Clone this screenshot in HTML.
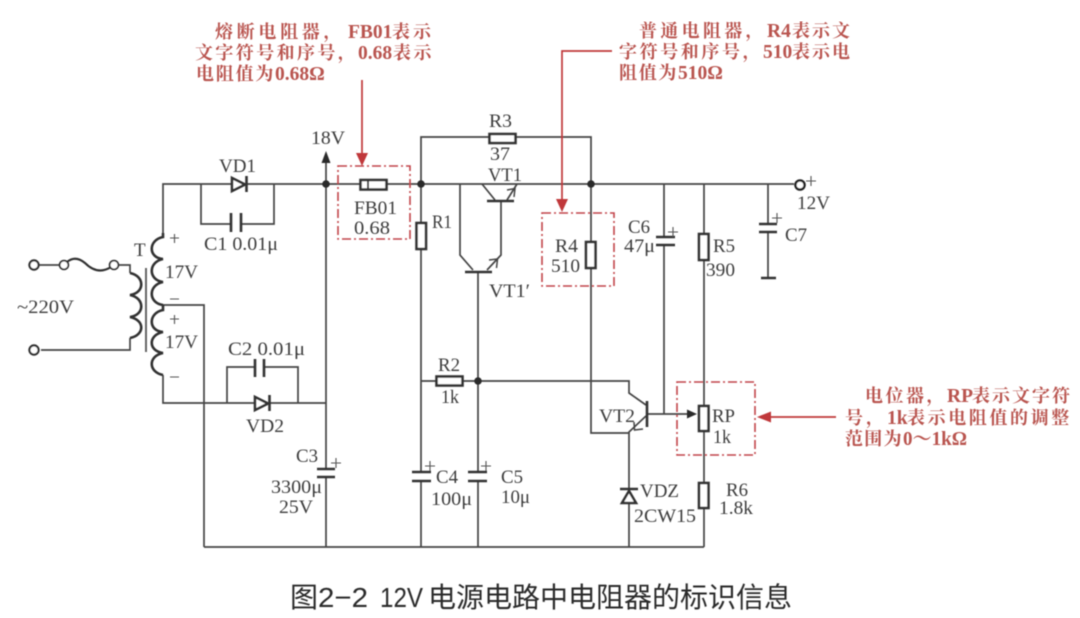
<!DOCTYPE html>
<html><head><meta charset="utf-8">
<style>
html,body{margin:0;padding:0;background:#fff;width:1080px;height:618px;overflow:hidden}
svg{display:block}
.w{fill:none;stroke:#444;stroke-width:1.7}
.b{fill:#fff;stroke:#333;stroke-width:2.6}
.p{fill:none;stroke:#333;stroke-width:2.6}
.d{fill:#2a2a2a;stroke:none}
.box{fill:none;stroke:#c2454a;stroke-width:1.6;stroke-dasharray:9 3 2 3}
.ra{fill:none;stroke:#c0393b;stroke-width:1.7}
.rh{fill:#c0393b;stroke:none}
.l text{font-family:"Liberation Serif","DejaVu Serif",serif;font-size:19px;fill:#3d3d3d}
.r text{font-family:"Liberation Serif","Noto Serif CJK SC",serif;font-size:18px;font-weight:700;fill:#b9544f}
.r .n{font-size:19.5px}
.cap{font-family:"Liberation Sans","Noto Sans CJK SC",sans-serif;font-size:28px;fill:#2b2b2b}
</style></head><body>
<svg width="1080" height="618" viewBox="0 0 1080 618" xmlns="http://www.w3.org/2000/svg">
<defs><filter id="s" x="0" y="0" width="100%" height="100%"><feGaussianBlur stdDeviation="0.45"/></filter></defs>
<rect width="1080" height="618" fill="#fff"/>
<g filter="url(#s)">

<!-- wires -->
<path class="w" d="M163 235V184H794"/>
<path class="w" d="M201 184V224H231M241 224H274V184"/>
<path class="w" d="M163 375V403H254M270 403H326"/>
<path class="w" d="M227 403V367H255M264 367H298V403"/>
<path class="w" d="M163 305H204V547"/>
<path class="w" d="M204 547H704"/>
<path class="w" d="M326 160V469M326 477V547"/>
<path class="w" d="M421 184V137H489M516 137H591V433H629"/>
<path class="w" d="M421 184V472M421 481V547"/>
<path class="w" d="M460 184V255L473 270M482 184L495 200M517 184L507 200"/>
<path class="w" d="M501 201V255L487 270"/>
<path class="w" d="M478 272V472M478 481V547"/>
<path class="w" d="M421 381H436M463 381H629V393L646 405"/>
<path class="w" d="M646 416L629 432V547"/>
<path class="w" d="M647 414H690"/>
<path class="w" d="M664 184V237M664 245V414"/>
<path class="w" d="M704 184V547"/>
<path class="w" d="M768 184V224M768 232V278"/>
<path class="w" d="M34 265H60M118 265H130V273M41 350H130V338"/>
<path fill="none" stroke="#333" stroke-width="2.2" d="M67 262C73 257 79 258 85 263C91 269 100 274 111 267"/>

<!-- coils -->
<path class="p" d="M163 233V237C148 240 148 258 163 259C148 262 148 280 163 282C148 285 148 303 163 305"/>
<path class="p" d="M163 305V310C148 313 148 331 163 332C148 335 148 351 163 353C148 356 148 372 163 375"/>
<path class="p" d="M130 273C145 276 145 293 130 295C145 298 145 315 130 317C145 320 145 335 130 338"/>
<path fill="none" stroke="#555" stroke-width="1.8" d="M146 268V352"/>

<!-- terminals -->
<g fill="#fff" stroke="#333" stroke-width="2.2">
<circle cx="34" cy="265" r="4.6"/><circle cx="34" cy="350" r="4.6"/>
</g>
<g fill="#fff" stroke="#333" stroke-width="1.8">
<circle cx="64" cy="265" r="4.4"/><circle cx="114" cy="265" r="4.4"/>
</g>
<circle cx="800" cy="185" r="4.6" fill="#fff" stroke="#222" stroke-width="2.4"/>

<!-- dots and arrow -->
<circle class="d" cx="326" cy="184" r="3.8"/><circle class="d" cx="421" cy="184" r="3.8"/>
<circle class="d" cx="591" cy="184" r="3.8"/><circle class="d" cx="478" cy="381" r="3.8"/>
<path class="d" d="M326 151L330.500 163H321.500Z"/>

<!-- diodes -->
<g class="p"><path d="M232 178V191L245 184.500Z" fill="#fff"/><path d="M246.500 176V192"/></g>
<g class="p"><path d="M255 397V410L268 403.500Z" fill="#fff"/><path d="M269.500 395V411"/></g>
<g class="p"><path d="M629 491L622 503H636Z" fill="#fff"/><path d="M620 489H638"/></g>

<!-- caps -->
<path class="p" d="M231 213V232M241 213V232M255 359V377M264 359V377"/>
<path class="p" d="M317 469H335M317 477H335M412 472H431M412 481H431M468 472H487M468 481H487M656 237H675M656 245H675M759 224H777M759 232H777M761 278H776"/>

<!-- transistor bars and arrowheads -->
<path class="p" d="M487 201H514M465 272H492M647 401V427"/>
<path class="w" style="stroke-width:1.5" d="M507 190L515 188.500L514 197"/>
<path class="w" style="stroke-width:1.5" d="M489 260L497.500 259L496.500 268"/>
<path class="w" style="stroke-width:1.5" d="M634 422L634.500 430L643 429"/>
<path class="d" d="M697 414L687 409.500V418.500Z"/>

<!-- resistors -->
<rect class="b" x="360.500" y="180" width="26" height="9.500"/><path class="p" d="M368 180V190" style="stroke-width:2"/>
<rect class="b" x="416.500" y="223" width="9.500" height="26"/>
<rect class="b" x="489.500" y="134" width="26" height="9"/>
<rect class="b" x="586" y="242" width="9.500" height="26"/>
<rect class="b" x="436.500" y="376.500" width="26" height="9"/>
<rect class="b" x="699" y="234" width="9.500" height="26"/>
<rect class="b" x="699" y="406" width="9.500" height="25"/>
<rect class="b" x="699" y="483" width="9.500" height="25"/>

<!-- red boxes and arrows -->
<rect class="box" x="338" y="166" width="72" height="73"/>
<rect class="box" x="542" y="213" width="72" height="73"/>
<rect class="box" x="677" y="382" width="78" height="73"/>
<path class="ra" d="M362 80V155M612 51H562V200M836 417H768"/>
<path class="rh" d="M362 166L356 153H368Z"/>
<path class="rh" d="M562 212L556 199H568Z"/>
<path class="rh" d="M757 417L771 411.500V422.500Z"/>

<!-- polarity marks -->
<path fill="none" stroke="#555" stroke-width="1.1" d="M170 238H179M174.500 234V243M170 299H179M170 319H179M174.500 315V324M170 377H179M331 463H341M336 458V468M425 466H435M430 461V471M481 466H491M486 461V471M668 232H678M673 227V237M772 218H782M777 213V223M806 181H816M811 176V186"/>

<!-- circuit labels -->
<g class="l">
<text x="311" y="144" textLength="34" lengthAdjust="spacingAndGlyphs">18V</text>
<text x="219" y="172" textLength="37" lengthAdjust="spacingAndGlyphs">VD1</text>
<text x="134" y="256">T</text>
<text x="17" y="313" textLength="57" lengthAdjust="spacingAndGlyphs">~220V</text>
<text x="204" y="250" textLength="74" lengthAdjust="spacingAndGlyphs">C1 0.01μ</text>
<text x="165" y="278" textLength="33" lengthAdjust="spacingAndGlyphs">17V</text>
<text x="165" y="348" textLength="33" lengthAdjust="spacingAndGlyphs">17V</text>
<text x="228" y="355" textLength="77" lengthAdjust="spacingAndGlyphs">C2 0.01μ</text>
<text x="246" y="432" textLength="38" lengthAdjust="spacingAndGlyphs">VD2</text>
<text x="296" y="462" textLength="22" lengthAdjust="spacingAndGlyphs">C3</text>
<text x="271" y="493" textLength="51" lengthAdjust="spacingAndGlyphs">3300μ</text>
<text x="279" y="513" textLength="34" lengthAdjust="spacingAndGlyphs">25V</text>
<text x="354" y="214" textLength="43" lengthAdjust="spacingAndGlyphs">FB01</text>
<text x="354" y="234" textLength="36" lengthAdjust="spacingAndGlyphs">0.68</text>
<text x="489" y="127" textLength="23" lengthAdjust="spacingAndGlyphs">R3</text>
<text x="490" y="160" textLength="20" lengthAdjust="spacingAndGlyphs">37</text>
<text x="488" y="181" textLength="34" lengthAdjust="spacingAndGlyphs">VT1</text>
<text x="432" y="228" textLength="20" lengthAdjust="spacingAndGlyphs">R1</text>
<text x="489" y="297" textLength="41" lengthAdjust="spacingAndGlyphs">VT1′</text>
<text x="555" y="252" textLength="23" lengthAdjust="spacingAndGlyphs">R4</text>
<text x="551" y="272" textLength="29" lengthAdjust="spacingAndGlyphs">510</text>
<text x="628" y="233" textLength="22" lengthAdjust="spacingAndGlyphs">C6</text>
<text x="624" y="252" textLength="31" lengthAdjust="spacingAndGlyphs">47μ</text>
<text x="713" y="252" textLength="22" lengthAdjust="spacingAndGlyphs">R5</text>
<text x="706" y="276" textLength="29" lengthAdjust="spacingAndGlyphs">390</text>
<text x="785" y="241" textLength="22" lengthAdjust="spacingAndGlyphs">C7</text>
<text x="797" y="209" textLength="33" lengthAdjust="spacingAndGlyphs">12V</text>
<text x="438" y="371" textLength="22" lengthAdjust="spacingAndGlyphs">R2</text>
<text x="441" y="403" textLength="18" lengthAdjust="spacingAndGlyphs">1k</text>
<text x="436" y="483" textLength="22" lengthAdjust="spacingAndGlyphs">C4</text>
<text x="431" y="505" textLength="41" lengthAdjust="spacingAndGlyphs">100μ</text>
<text x="501" y="483" textLength="22" lengthAdjust="spacingAndGlyphs">C5</text>
<text x="501" y="503" textLength="29" lengthAdjust="spacingAndGlyphs">10μ</text>
<text x="599" y="422" textLength="36" lengthAdjust="spacingAndGlyphs">VT2</text>
<text x="640" y="497" textLength="39" lengthAdjust="spacingAndGlyphs">VDZ</text>
<text x="634" y="522" textLength="62" lengthAdjust="spacingAndGlyphs">2CW15</text>
<text x="712" y="422" textLength="23" lengthAdjust="spacingAndGlyphs">RP</text>
<text x="713" y="443" textLength="18" lengthAdjust="spacingAndGlyphs">1k</text>
<text x="726" y="496" textLength="22" lengthAdjust="spacingAndGlyphs">R6</text>
<text x="719" y="514" textLength="34" lengthAdjust="spacingAndGlyphs">1.8k</text>
</g>

<!-- annotations -->
<g class="r">
<text y="38"><tspan x="215" letter-spacing="3.7">熔断电阻器，</tspan><tspan x="348" class="n">FB01</tspan><tspan x="392" letter-spacing="3">表示</tspan></text>
<text y="59"><tspan x="195" letter-spacing="2.4">文字符号和序号，</tspan><tspan x="358" class="n">0.68</tspan><tspan x="393" letter-spacing="2.5">表示</tspan></text>
<text y="80"><tspan x="196" letter-spacing="1.8">电阻值为</tspan><tspan x="275" class="n">0.68Ω</tspan></text>
<text y="37"><tspan x="639" letter-spacing="3.3">普通电阻器，</tspan><tspan x="767" class="n">R4</tspan><tspan x="792" letter-spacing="2">表示文</tspan></text>
<text y="58"><tspan x="619" letter-spacing="2.6">字符号和序号，</tspan><tspan x="763" class="n">510</tspan><tspan x="792" letter-spacing="2">表示电</tspan></text>
<text y="79"><tspan x="619" letter-spacing="1.7">阻值为</tspan><tspan x="678" class="n">510Ω</tspan></text>
<text y="402"><tspan x="865" letter-spacing="2.5">电位器，</tspan><tspan x="947" class="n">RP</tspan><tspan x="972" letter-spacing="2">表示文字符</tspan></text>
<text y="424"><tspan x="845" letter-spacing="3">号，</tspan><tspan x="887" class="n">1k</tspan><tspan x="907" letter-spacing="2.6">表示电阻值的调整</tspan></text>
<text y="445"><tspan x="845" letter-spacing="1.3">范围为</tspan><tspan x="903" class="n" textLength="64" lengthAdjust="spacingAndGlyphs">0～1kΩ</tspan></text>
</g>

<text class="cap" y="607"><tspan x="290">图</tspan><tspan x="318" textLength="50" lengthAdjust="spacingAndGlyphs">2−2</tspan><tspan x="380" textLength="43" lengthAdjust="spacingAndGlyphs">12V</tspan><tspan x="428">电源电路中电阻器的标识信息</tspan></text>
</g>
</svg>
</body></html>
